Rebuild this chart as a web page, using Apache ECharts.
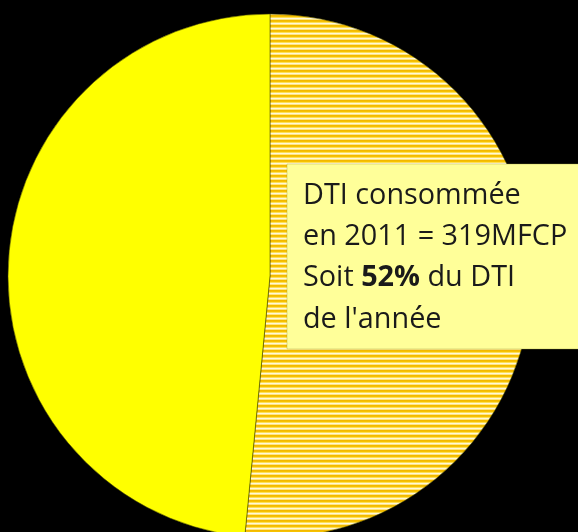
<!DOCTYPE html>
<html>
<head>
<meta charset="utf-8">
<script src="https://cdn.jsdelivr.net/npm/echarts@6/dist/echarts.min.js"></script>
<style>
  html, body { margin: 0; padding: 0; background: #000; }
  #chart { width: 578px; height: 532px; }
</style>
</head>
<body>
<div id="chart"></div>
<script>
// ---- data ----
const categories = ['DTI consommée', 'DTI non consommée'];
const values = [319, 300];          // MFCP (remaining part)
const year = 2011;
const unit = 'MFCP';

// ---- derived ----
const total = values.reduce((a, b) => a + b, 0);
const pct = Math.round(values[0] / total * 100);

// striped pattern for the consumed slice
function stripePattern() {
  const c = document.createElement('canvas');
  c.width = 8; c.height = 5;
  const ctx = c.getContext('2d');
  const rows = ['#F3B800', '#F6C200', '#FFDF55', '#FFF8D8', '#FFE680'];
  rows.forEach((col, i) => { ctx.fillStyle = col; ctx.fillRect(0, i, 8, 1); });
  return c;
}

const chart = echarts.init(document.getElementById('chart'), null, { renderer: 'canvas' });

const fontFamily = '"Open Sans", "Noto Sans", sans-serif';
const fs = 28.8;
const lh = 41.3;

chart.setOption({
  backgroundColor: '#000000',
  animation: false,
  series: [{
    type: 'pie',
    silent: true,
    center: [270, 276],
    radius: 262,
    startAngle: 90,
    clockwise: true,
    label: { show: false },
    labelLine: { show: false },
    emphasis: { disabled: true },
    itemStyle: { borderColor: 'rgba(70,70,0,0.55)', borderWidth: 1 },
    data: [
      { name: categories[0], value: values[0],
        itemStyle: { color: { image: stripePattern(), repeat: 'repeat' } } },
      { name: categories[1], value: values[1],
        itemStyle: { color: '#FFFF00' } }
    ]
  }],
  graphic: [
    {
      type: 'rect',
      shape: { x: 287, y: 164, width: 300, height: 185 },
      style: { fill: '#FFFF99', stroke: 'rgba(150,150,60,0.35)', lineWidth: 1 },
      z: 10
    },
    {
      type: 'text',
      x: 303,
      y: 175,
      z: 11,
      style: {
        text: categories[0] + '\nen ' + year + ' = ' + values[0] + unit +
              '\nSoit {b|' + pct + '%} du DTI\nde l\'année',
        fill: '#1a1a1a',
        fontFamily: fontFamily,
        fontSize: fs,
        lineHeight: lh,
        verticalAlign: 'top',
        align: 'left',
        rich: {
          b: { fontFamily: fontFamily, fontSize: fs, fontWeight: 'bold', fill: '#1a1a1a', lineHeight: lh }
        }
      }
    }
  ]
});
</script>
</body>
</html>
